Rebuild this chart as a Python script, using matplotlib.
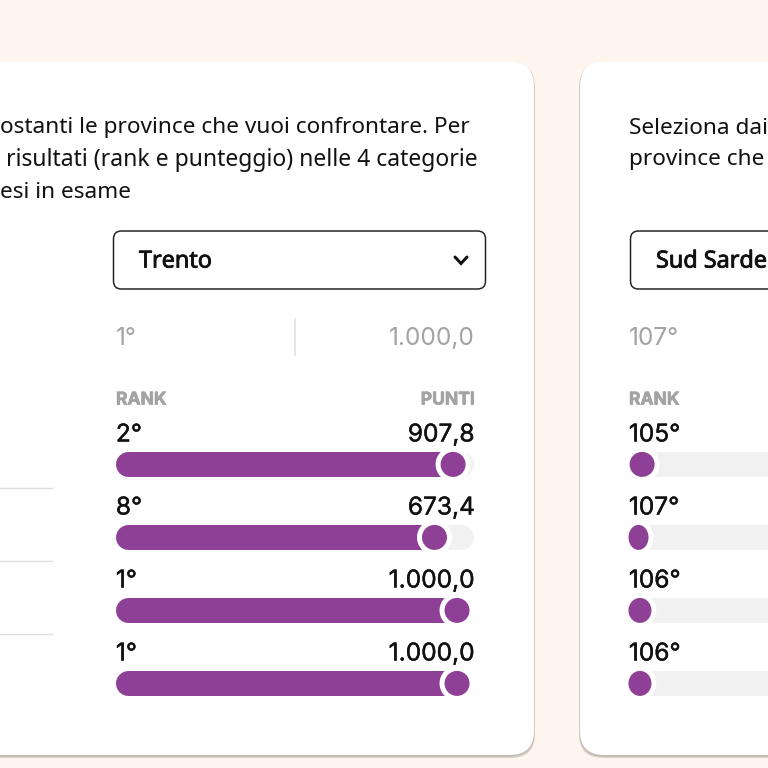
import matplotlib
matplotlib.use("Agg")
import matplotlib.pyplot as plt
from matplotlib.patches import FancyBboxPatch, Ellipse
import matplotlib.patheffects as pe

# ---- data ----
intro_left = ["ostanti le province che vuoi confrontare. Per",
              " risultati (rank e punteggio) nelle 4 categorie",
              "esi in esame"]
intro_right = ["Seleziona dai", "province che"]
province_left = "Trento"
province_right = "Sud Sarde"
overall_rank_left = "1°"
overall_score_left = "1.000,0"
overall_rank_right = "107°"
ranks_left = ["2°", "8°", "1°", "1°"]
scores_left = ["907,8", "673,4", "1.000,0", "1.000,0"]
ranks_right = ["105°", "107°", "106°", "106°"]
# knob centre along each track, in % of the track length
fill_left = [94.3, 89.1, 95.4, 95.4]
fill_right = [3.8, 2.8, 3.2, 3.2]
knob_w_left = [25, 25, 25, 25]
knob_w_right = [25, 20, 23, 23]

BG = "#FEF5EF"
PURPLE = "#8E3F96"
TRACK = "#F1F1F1"
GREY = "#A3A3A3"
BODY = "Noto Sans"
NUM = "Inter"
PX = 0.72  # px -> pt at dpi 100


def heavy(width, color):
    return [pe.withStroke(linewidth=width, foreground=color)]


fig = plt.figure(figsize=(7.68, 7.68), dpi=100, facecolor=BG)
page = fig.add_axes([0, 0, 1, 1])
page.set_xlim(0, 768)
page.set_ylim(768, 0)
page.axis("off")


def card(x0, x1):
    y0, y1, r = 62, 755, 24
    for off, a in ((0.0, .16), (1.0, .2), (2.0, .3)):
        page.add_patch(FancyBboxPatch((x0 + r - off * .5, y0 + r + 1), x1 - x0 - 2 * r + off, y1 - y0 - 2 * r + off,
                                      boxstyle=f"round,pad={r}", fc="#8a8577", ec="none", alpha=a, zorder=1))
    page.add_patch(FancyBboxPatch((x0 + r, y0 + r), x1 - x0 - 2 * r, y1 - y0 - 2 * r,
                                  boxstyle=f"round,pad={r}", fc="white", ec="none", zorder=2))


card(-100, 534)
card(580, 1000)

for i, s in enumerate(intro_left):
    page.text(0, 128 + 32 * i + (0.5 if i == 1 else 0), s, fontsize=(22.9 if i == 1 else 22.6) * PX, family=BODY,
              color="#111", va="center", ha="left", zorder=5)
for i, s in enumerate(intro_right):
    page.text(629, 128 + 32 * i, s, fontsize=22.6 * PX, family=BODY, color="#111",
              va="center", ha="left", zorder=5)


def dropdown(x0, x1, label, tx):
    r = 8
    page.add_patch(FancyBboxPatch((x0 + r, 231 + r), x1 - x0 - 2 * r, 58 - 2 * r, boxstyle=f"round,pad={r}",
                                  fc="white", ec="#222", lw=1.5 * PX, zorder=3))
    page.text(tx, 261.5, label, fontsize=23.4 * PX, family=BODY, color="#111", va="center", zorder=5,
              path_effects=heavy(0.6, "#111"))


dropdown(113.5, 485.5, province_left, 139)
dropdown(630.5, 1000, province_right, 656)
page.plot([455, 461, 467], [257, 263.5, 257], color="#111", lw=3 * PX, solid_capstyle="round",
          solid_joinstyle="miter", zorder=5)

page.text(116, 338.5, overall_rank_left, fontsize=24.5 * PX, family=NUM, color=GREY, va="center", zorder=5)
page.text(474.5, 338.5, overall_score_left, fontsize=24.5 * PX, family=NUM, color=GREY, va="center", ha="right", zorder=5)
page.text(629, 338.5, overall_rank_right, fontsize=24.5 * PX, family=NUM, color=GREY, va="center", zorder=5)
page.plot([295, 295], [319, 355], color="#DDDDDD", lw=1.5 * PX, zorder=5)

for x, s, ha in ((116, "RANK", "left"), (474.5, "PUNTI", "right"), (629, "RANK", "left")):
    page.text(x, 400, s, fontsize=17.5 * PX, family=NUM, weight="bold", color=GREY, va="center", ha=ha, zorder=5,
              path_effects=heavy(0.5, GREY))

for y in (488, 560.5, 633.5):
    page.plot([-5, 52], [y, y], color="#DDDDDD", lw=1.3 * PX, zorder=5)

ROWS = [464.4, 537.4, 610.4, 683.4]


def panel(x0, ranks, scores, fills, widths):
    w = 358
    ax = fig.add_axes([(x0 - 0.5) / 768, 0, w / 768, 1], zorder=3)
    ax.set_xlim(0, 100)
    ax.set_ylim(768, 0)
    ax.axis("off")
    u = 100 / w  # one pixel in value units
    lw = 25 * PX
    cap = 12.5 * u
    for i, y in enumerate(ROWS):
        ax.plot([cap, 100 - cap], [y, y], color=TRACK, lw=lw, solid_capstyle="round", zorder=1, clip_on=False)
        if fills[i] > 10:
            ax.plot([cap, fills[i]], [y, y], color=PURPLE, lw=lw, solid_capstyle="round", zorder=2, clip_on=False)
        kw = widths[i] * u
        ax.add_patch(Ellipse((fills[i], y), kw + 10 * u, 35, fc="white", ec="none", zorder=3, clip_on=False))
        ax.add_patch(Ellipse((fills[i], y), kw, 25, fc=PURPLE, ec="none", zorder=4, clip_on=False))
        ax.text(0.1, y - 29.4, ranks[i], fontsize=24.5 * PX, family=NUM, color="#111", va="center", ha="left", zorder=5,
                path_effects=heavy(0.3, "#111"))
        if scores:
            ax.text(100.3, y - 29.4, scores[i], fontsize=24.5 * PX, family=NUM, color="#111", va="center", ha="right",
                    zorder=5, path_effects=heavy(0.3, "#111"))


panel(116, ranks_left, scores_left, fill_left, knob_w_left)
panel(629, ranks_right, None, fill_right, knob_w_right)

fig.savefig("out.png", dpi=100, facecolor=BG)
